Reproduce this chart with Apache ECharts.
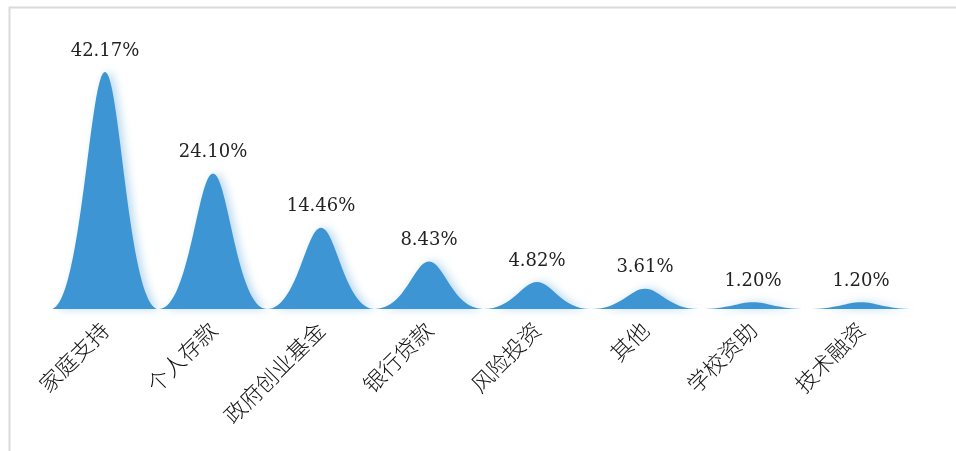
<!DOCTYPE html>
<html>
<head>
<meta charset="utf-8">
<script src="https://cdn.jsdelivr.net/npm/echarts@6/dist/echarts.min.js"></script>
<style>
  html, body { margin: 0; padding: 0; background: #fff; }
  #main { width: 956px; height: 451px; }
</style>
</head>
<body>
<div id="main"></div>
<script>
// 资金来源分类
var categories = ['家庭支持', '个人存款', '政府创业基金', '银行贷款', '风险投资', '其他', '学校资助', '技术融资'];
// 各类占比(%)
var values = [42.17, 24.10, 14.46, 8.43, 4.82, 3.61, 1.20, 1.20];

var chart = echarts.init(document.getElementById('main'));

// 山峰形状
var bellPath = 'path://M0,100 C28,100 36,0 50,0 C64,0 72,100 100,100 Z';

var option = {
    backgroundColor: '#fff',
    animation: false,
    graphic: [{
        type: 'rect',
        left: 7,
        top: 5,
        shape: { width: 1000, height: 500 },
        style: { fill: 'none', stroke: '#dadada', lineWidth: 2 },
        silent: true
    }],
    grid: {
        left: 51,
        right: 41,
        top: 56,
        bottom: 142
    },
    xAxis: {
        type: 'category',
        data: categories,
        axisLine: { show: false },
        axisTick: { show: false },
        axisLabel: {
            rotate: 45,
            margin: 17,
            fontSize: 22,
            color: '#111',
            fontFamily: 'Noto Sans CJK SC',
            fontWeight: 300,
            interval: 0
        }
    },
    yAxis: {
        type: 'value',
        min: 0,
        max: 45,
        show: false,
        splitLine: { show: false }
    },
    series: [{
        type: 'pictorialBar',
        barCategoryGap: '0%',
        symbol: bellPath,
        symbolSize: ['100%', '100%'],
        data: values,
        itemStyle: {
            color: '#3d95d3',
            shadowColor: 'rgba(61, 149, 211, 0.35)',
            shadowBlur: 8,
            shadowOffsetX: 4
        },
        label: {
            show: true,
            position: 'top',
            distance: 12,
            fontSize: 18,
            color: '#222',
            fontFamily: 'DejaVu Serif',
            formatter: function (p) {
                return p.value.toFixed(2) + '%';
            }
        }
    }]
};

chart.setOption(option);
</script>
</body>
</html>
